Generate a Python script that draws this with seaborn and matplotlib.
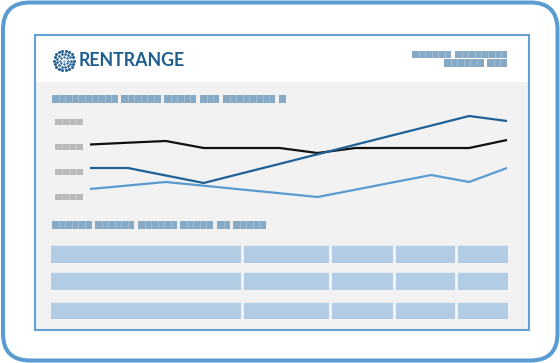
import numpy as np
import pandas as pd
import matplotlib
matplotlib.use("Agg")
import matplotlib.pyplot as plt
from matplotlib.patches import FancyBboxPatch, Rectangle
import seaborn as sns

# monthly values (arbitrary index units), 12 points per series
months = list(range(12))
black_vals = [65.5, 67.3, 69, 62, 62, 62, 57, 62, 62, 62, 62, 70]
dark_vals = [42, 42, 34.5, 27, 36.6, 46.1, 55.7, 65.3, 74.9, 84.4, 94, 89]
light_vals = [21, 24.5, 28, 24.3, 20.5, 16.8, 13, 20.3, 27.7, 35, 28, 42]
series_names = ["Area", "Region", "National"]
ytick_vals = [88, 63, 38, 13]

brand = "RENTRANGE"

df = pd.DataFrame({
    "month": months * 3,
    "value": black_vals + dark_vals + light_vals,
    "series": [series_names[0]] * 12 + [series_names[1]] * 12 + [series_names[2]] * 12,
})
palette = {"Area": "#111111", "Region": "#1f6196", "National": "#5a9bd1"}

W, H = 560, 363
fig = plt.figure(figsize=(W / 100, H / 100), dpi=100)
bg = fig.add_axes([0, 0, 1, 1])
bg.set_xlim(0, W)
bg.set_ylim(H, 0)
bg.axis("off")

# outer device frame
bg.add_patch(FancyBboxPatch((3, 2.5), 554.5, 358, boxstyle="round,pad=0,rounding_size=27",
                            fc="white", ec="#5a9bd1", lw=2.9))
# inner panel: white header + grey body
bg.add_patch(Rectangle((34.5, 34.5), 494, 48, fc="white", ec="none"))
bg.add_patch(Rectangle((34.5, 82), 494, 247.5, fc="#f2f2f2", ec="none"))
bg.add_patch(Rectangle((34.5, 34.5), 494, 295, fc="none", ec="#64a0d3", lw=1.5))


def redacted(x0, x1, y0, y1, color="#86a9c6", step=6.6):
    bg.add_patch(Rectangle((x0, y0), x1 - x0, y1 - y0, fc=color, ec="none"))
    for xs in np.arange(x0 + step, x1 - 1, step):
        bg.plot([xs, xs], [y0, y1], color="white", lw=0.5, alpha=0.35)


# logo: rings of dots
cx, cy = 64, 60.5
for r, n, s in [(10, 18, 5.0), (6.8, 13, 3.8), (3.8, 8, 2.8)]:
    ang = np.linspace(0, 2 * np.pi, n, endpoint=False)
    bg.scatter(cx + r * np.cos(ang), cy + r * np.sin(ang), s=s, color="#2a6597", lw=0)
bg.scatter([cx], [cy], s=4, color="#8fb5d6", lw=0)
bg.text(78.5, 61, brand, fontsize=12.8, fontweight="bold", family="Lato", color="#1f5f8f",
        va="center", ha="left")

# header right blocks
redacted(412, 451, 51, 58)
redacted(455, 507, 51, 58)
redacted(444, 484, 59, 66.5)
redacted(487, 507, 59, 66.5)

# chart title blocks
for a, b in [(52, 118), (121, 161), (164, 196), (200, 219), (223, 275), (279, 286)]:
    redacted(a, b, 95, 102.5)

# table title blocks
for a, b in [(52, 92), (95, 134), (138, 177), (180, 213), (217, 230), (233, 266)]:
    redacted(a, b, 221, 229)

# table cells
cols = [(51, 241), (244, 329), (332, 393), (396, 455), (458, 508)]
rows = [(245, 263), (272, 290), (302, 319)]
for y0, y1 in rows:
    for x0, x1 in cols:
        bg.add_patch(Rectangle((x0, y0), x1 - x0, y1 - y0, fc="#b2cde3", ec="none"))
        bg.plot([x0, x1], [y0 - 0.5, y0 - 0.5], color="#e2e8ee", lw=0.8)

# line chart
left_px, right_px = 90, 507
top_px, bot_px = 105, 205
ax = fig.add_axes([left_px / W, 1 - bot_px / H, (right_px - left_px) / W, (bot_px - top_px) / H])
ax.patch.set_alpha(0)
sns.lineplot(data=df, x="month", y="value", hue="series", palette=palette,
             hue_order=series_names, lw=1.6, legend=False, ax=ax)
ax.set_xlim(0, 11)
ax.set_ylim(5, 105)
ax.set_xticks([])
ax.set_yticks([])
ax.set_xlabel("")
ax.set_ylabel("")
for sp in ax.spines.values():
    sp.set_visible(False)

# y tick label placeholders (grey blocks)
trans = ax.get_yaxis_transform()
bx0 = (55 - left_px) / (right_px - left_px)
bw = 28 / (right_px - left_px)
for v in ytick_vals:
    ax.add_patch(Rectangle((bx0, v - 3.3), bw, 6.6, transform=trans, fc="#bababa", ec="none",
                           clip_on=False))
    for k in range(1, 4):
        xs = bx0 + bw * k / 4
        ax.plot([xs, xs], [v - 3.3, v + 3.3], transform=trans, color="white", lw=0.5,
                alpha=0.35, clip_on=False)

fig.savefig("out.png", dpi=100)
